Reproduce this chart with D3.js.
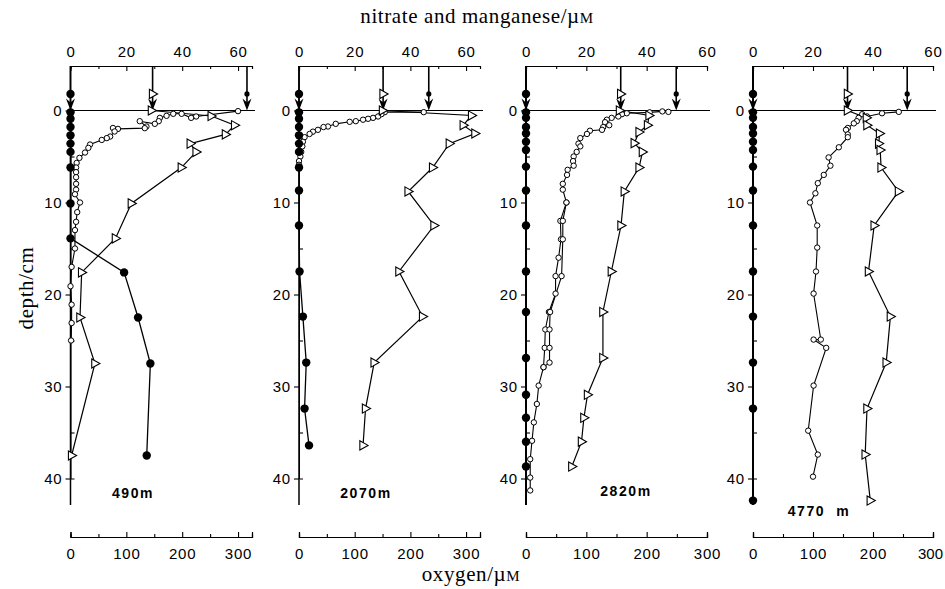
<!DOCTYPE html>
<html><head><meta charset="utf-8">
<script src="https://cdn.jsdelivr.net/npm/d3@7"></script>
<style>body{margin:0;background:#fff}svg{display:block}</style>
</head><body><svg id="c" width="945" height="589"></svg>
<script>
// ---------- data ----------
const stations = ["490m", "2070m", "2820m", "4770  m"];
const nitrateTicks = [0, 20, 40, 60];
const nitrateMinor = [10, 30, 50];
const oxygenTicks = [0, 100, 200, 300];
const oxygenMinor = [50, 150, 250];
const depthTicks = [0, 10, 20, 30, 40];
const depthMinor = [5, 15, 25, 35];
// bottom-water values (arrows)
const bwManganese = [0, 0, 0, 0];
const bwNitrate = [29.4, 30.2, 31.4, 31.5];
const bwOxygen = [316, 233, 249, 257];
const bwDepth = -1.8;

// [depth cm, value µM]
const manganese1 = [[0.2,0],[0.9,0],[1.8,0],[2.7,0],[3.6,0],[4.5,0],[6.2,0],[10.1,0],[13.9,0],[17.6,19.2],[22.5,24.2],[27.5,28.6],[37.5,27.3]];
const manganese2 = [[0.2,0],[0.9,0],[1.8,0],[2.7,0],[3.6,0],[4.5,0],[6.2,0],[8.7,0],[12.5,0],[17.5,0.2],[22.4,1.4],[27.4,2.6],[32.4,2],[36.4,3.6]];
const manganese3 = [[0.2,0],[0.8,0],[1.8,0],[2.5,0],[3.4,0],[4.3,0],[6.1,0],[8.7,0],[12.5,0],[17.5,0],[21.9,0],[26.9,0],[30.9,0],[33.4,0],[36.0,0],[38.7,0]];
const manganese4 = [[0.2,0],[0.8,0],[1.8,0],[2.5,0],[3.4,0],[4.3,0],[6.1,0],[8.7,0],[12.5,0],[17.5,0],[22.4,0],[27.4,0],[32.4,0],[42.4,0]];

const nitrate1 = [[0,29],[0.6,50.4],[1.6,58.8],[2.6,55.5],[3.6,42.9],[4.5,45],[6.2,39.7],[10.1,21.8],[13.9,16.1],[17.6,4.0],[22.5,3.4],[27.5,8.75],[37.5,0.4]];
const nitrate2 = [[0,30],[0.54,62],[1.6,59],[2.5,63.2],[3.6,54],[6.2,48],[8.8,39.2],[12.5,48.5],[17.5,35.9],[22.4,44.4],[27.4,27],[32.4,23.9],[36.4,23]];
const nitrate3 = [[0,31],[0.54,40.8],[1.6,40.3],[2.35,37.5],[3.55,35.9],[4.5,38.6],[6.2,37.5],[8.8,32.6],[12.5,31.5],[17.5,28.3],[21.9,25.5],[26.9,25.5],[30.9,20.4],[33.4,19.2],[36.0,18.4],[38.7,15.2]];
const nitrate4 = [[0,31.5],[0.8,37.8],[1.6,38],[2.5,42.2],[3.6,41.9],[4.3,42.4],[6.2,42.7],[8.8,48.5],[12.5,40.4],[17.5,38.5],[22.4,45.8],[27.4,44.4],[32.4,38],[37.4,37.4],[42.4,39.1]];

const oxygen1 = [[0.07,300],[0.65,225],[0.8,216],[0.36,199],[0.36,184],[0.58,172],[0.8,160],[1.16,158],[1.45,151],[1.16,124],[1.74,136],[1.92,133],[2.0,85],[1.9,76],[2.28,79],[2.83,71],[3.0,65],[3.2,56],[3.7,35],[4.06,32],[4.57,26],[5.15,16],[5.7,11],[6.2,10],[6.7,10],[7.25,10],[7.97,10],[8.6,10],[9.1,8],[10.0,17],[11.05,12],[12.1,10],[13.0,8],[15.0,8],[17.0,2],[19.1,0],[21.1,2],[23.1,2],[25.0,1]];
const oxygen2 = [[0.18,224],[0.18,154],[0.4,148],[0.65,142],[0.8,133],[0.9,124],[1.0,115],[1.16,102],[1.23,91],[1.45,66],[1.74,52],[1.8,44],[2.1,34],[2.3,25],[2.55,19],[2.9,10],[3.4,7],[3.9,6],[4.5,4],[5.0,2.5],[5.5,0],[5.9,0]];
const oxygen3 = [[0.15,236],[0.1,226],[0.2,205],[0.3,167],[0.4,159],[0.65,153],[0.8,142],[1.0,134],[1.27,131],[1.6,138],[1.8,128],[2.1,126],[2.2,106],[2.55,101],[3.0,90],[3.6,87],[3.9,90],[4.5,84],[5.0,79],[5.5,78],[6.0,79],[6.45,69],[7.0,68],[7.97,61],[8.6,61],[10.0,67],[12.0,57],[14.0,58],[16.0,54],[18.0,49],[19.9,49],[21.9,38],[23.8,32],[25.8,31],[27.9,29],[29.9,21],[31.9,18],[33.9,13],[35.9,10],[37.9,7],[39.9,7],[41.3,7]];
const oxygen3rep = [[10.0,67],[12.0,61],[14.0,61],[18.0,59],[21.9,40],[23.8,39],[25.8,39],[27.4,39],[27.9,29]];
const oxygen4 = [[0.15,243],[0.3,215],[0.65,190],[0.4,182],[0.8,176],[1.16,173],[1.4,168],[1.9,158],[2.1,155],[2.6,158],[2.9,158],[4.0,143],[5.1,126],[6.0,129],[7.0,118],[7.9,108],[9.0,104],[10.0,95],[12.5,107],[14.9,107],[17.5,105],[19.9,101],[24.9,113],[24.9,101],[25.8,122],[29.9,101],[34.8,92],[37.4,108],[39.8,100]];

const manganese = [manganese1, manganese2, manganese3, manganese4];
const nitrate = [nitrate1, nitrate2, nitrate3, nitrate4];
const oxygen = [oxygen1, oxygen2, oxygen3, oxygen4];
const oxygenRep = [null, null, oxygen3rep, null];

// ---------- layout ----------
const layout = [
  {left: 70.5, right: 252, max: 65, lx: 133, ly: 498},
  {left: 299, right: 480, max: 65, lx: 366, ly: 498},
  {left: 526, right: 707, max: 60, lx: 626, ly: 496},
  {left: 753, right: 933, max: 60, lx: 819, ly: 516}
];
const yTop = 66, yBottomAxis = 537, yAxisEnd = 505;
const y = d3.scaleLinear().domain([0, 40]).range([110.5, 478.5]);

const svg = d3.select("#c");
const sans = "'Liberation Sans', Arial, Helvetica, sans-serif";
const serif = "'Liberation Serif', 'Times New Roman', serif";

const triPath = "M-3.2,-4.6 L5,0 L-3.2,4.6 Z";
const arrowPath = "M-4.5,-12 L0,0 L4.5,-12 L0,-8 Z";

layout.forEach((L, i) => {
  const g = svg.append("g");
  const xN = d3.scaleLinear().domain([0, L.max]).range([L.left, L.right]);
  const xO = d3.scaleLinear().domain([0, L.max * 5]).range([L.left, L.right]);

  // top axis
  const top = g.append("g").attr("transform", `translate(0,${yTop})`)
    .call(d3.axisTop(xN).tickValues(nitrateTicks).tickSize(-5).tickPadding(9).tickSizeOuter(0));
  top.append("g").call(d3.axisTop(xN).tickValues(nitrateMinor).tickSize(-3).tickFormat(""));
  top.selectAll(".domain").attr("stroke", "#000").attr("stroke-width", 1.2);

  // bottom (oxygen) axis
  const bot = g.append("g").attr("transform", `translate(0,${yBottomAxis})`)
    .call(d3.axisBottom(xO).tickValues(oxygenTicks).tickSize(-5).tickPadding(11).tickSizeOuter(-5));
  bot.append("g").call(d3.axisBottom(xO).tickValues(oxygenMinor).tickSize(-3).tickFormat(""));
  bot.selectAll(".domain").attr("stroke", "#000").attr("stroke-width", 1.2);

  // depth axis
  const dep = g.append("g").attr("transform", `translate(${L.left},0)`)
    .call(d3.axisLeft(y).tickValues(depthTicks).tickSize(5).tickPadding(3).tickSizeOuter(0));
  dep.append("g").call(d3.axisRight(y).tickValues(depthMinor).tickSize(4).tickFormat(""));
  dep.select(".domain").remove();
  g.append("line").attr("x1", L.left).attr("x2", L.left)
    .attr("y1", yTop).attr("y2", yAxisEnd)
    .attr("stroke", "#000").attr("stroke-width", i >= 2 ? 2 : 1.5);

  g.selectAll(".tick text").attr("font-family", sans).attr("font-size", 15)
    .attr("letter-spacing", 0.8).attr("fill", "#000");
  g.selectAll(".tick line").attr("stroke", "#000").attr("stroke-width", 1.1);
  if (i === 3) {
    bot.selectAll(".tick text").filter(d => d === 300).attr("letter-spacing", 0).attr("dx", -3);
  }

  // sediment-water interface
  g.append("line").attr("x1", L.left).attr("x2", L.right + 3)
    .attr("y1", y(0)).attr("y2", y(0)).attr("stroke", "#000").attr("stroke-width", 1.2);

  // arrows for bottom-water values
  const arrows = [
    {x: xN(bwManganese[i]), type: "mn"},
    {x: xN(bwNitrate[i]), type: "no3"},
    {x: xO(bwOxygen[i]), type: "o2"}
  ];
  arrows.forEach(a => {
    g.append("line").attr("x1", a.x).attr("x2", a.x).attr("y1", yTop).attr("y2", y(0) - 4)
      .attr("stroke", "#000").attr("stroke-width", 1.6);
    g.append("path").attr("d", arrowPath).attr("transform", `translate(${a.x},${y(0)})`).attr("fill", "#000");
    const yy = y(bwDepth);
    if (a.type === "mn") g.append("circle").attr("cx", a.x).attr("cy", yy).attr("r", 4.2).attr("fill", "#000");
    else if (a.type === "no3") g.append("path").attr("d", triPath).attr("transform", `translate(${a.x},${yy})`)
      .attr("fill", "#fff").attr("stroke", "#000").attr("stroke-width", 1.1);
    else g.append("circle").attr("cx", a.x).attr("cy", yy).attr("r", 2.6).attr("fill", "#000");
  });

  const lineN = d3.line().x(d => xN(d[1])).y(d => y(d[0]));
  const lineO = d3.line().x(d => xO(d[1])).y(d => y(d[0]));

  // oxygen
  [oxygen[i], oxygenRep[i]].forEach(s => {
    if (!s) return;
    g.append("path").datum(s).attr("d", lineO).attr("fill", "none").attr("stroke", "#000").attr("stroke-width", 1.1);
  });
  // nitrate line
  g.append("path").datum(nitrate[i]).attr("d", lineN).attr("fill", "none").attr("stroke", "#000").attr("stroke-width", 1.2);
  // manganese line
  g.append("path").datum(manganese[i]).attr("d", lineN).attr("fill", "none").attr("stroke", "#000").attr("stroke-width", 1.3);

  [oxygen[i], oxygenRep[i]].forEach(s => {
    if (!s) return;
    g.selectAll(null).data(s).join("circle").attr("cx", d => xO(d[1])).attr("cy", d => y(d[0]))
      .attr("r", 2.7).attr("fill", "#fff").attr("stroke", "#000").attr("stroke-width", 1);
  });
  g.selectAll(null).data(nitrate[i]).join("path").attr("d", triPath)
    .attr("transform", d => `translate(${xN(d[1])},${y(d[0])})`)
    .attr("fill", "#fff").attr("stroke", "#000").attr("stroke-width", 1.1);
  g.selectAll(null).data(manganese[i]).join("circle").attr("cx", d => xN(d[1])).attr("cy", d => y(d[0]))
    .attr("r", 4.2).attr("fill", "#000");

  // station label
  g.append("text").attr("x", L.lx).attr("y", L.ly).attr("text-anchor", "middle")
    .attr("font-family", sans).attr("font-weight", "bold").attr("font-size", 14)
    .attr("letter-spacing", 1.6).attr("xml:space", "preserve").style("white-space", "pre")
    .text(stations[i]);
});

// axis titles
const t1 = svg.append("text").attr("x", 477).attr("y", 23).attr("text-anchor", "middle")
  .attr("font-family", serif).attr("font-size", 21).attr("letter-spacing", 0.6);
t1.append("tspan").text("nitrate and manganese/µ");
t1.append("tspan").attr("font-size", 15).text("M");
const t2 = svg.append("text").attr("x", 471).attr("y", 581).attr("text-anchor", "middle")
  .attr("font-family", serif).attr("font-size", 21).attr("letter-spacing", 0.6);
t2.append("tspan").text("oxygen/µ");
t2.append("tspan").attr("font-size", 15).text("M");
svg.append("text").attr("transform", "translate(33,288) rotate(-90)").attr("text-anchor", "middle")
  .attr("font-family", serif).attr("font-size", 21).attr("letter-spacing", 0.6).text("depth/cm");
</script></body></html>
